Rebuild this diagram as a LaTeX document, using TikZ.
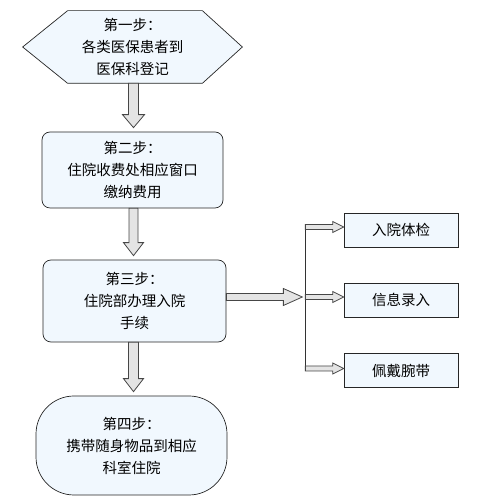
\documentclass[tikz,border=0pt]{standalone}
\usepackage{fontspec}
\newfontfamily\cjk{Noto Sans CJK SC}
\definecolor{stepfill}{RGB}{241, 248, 254}
\definecolor{arrowgray}{RGB}{228, 228, 228}
\definecolor{edgegray}{RGB}{70, 70, 70}
\usetikzlibrary{shapes, arrows.meta, positioning, calc, backgrounds}

\tikzset{
  stepbox/.style={draw=black!85, fill=stepfill, line width=0.7pt, align=center, font=\cjk\fontsize{14.5}{22}\selectfont, inner sep=0pt},
  taskbox/.style={draw=black!85, fill=stepfill, line width=0.7pt, minimum width=114pt, minimum height=34pt, font=\cjk\fontsize{14.5}{22}\selectfont},
  arrowbody/.style={draw=edgegray, fill=arrowgray, line width=0.8pt, line join=miter}
}

% fat arrow: from, to, half shaft, half head, head length
\newcommand{\fatarrow}[5]{%
  \coordinate (fa-s) at (#1);
  \coordinate (fa-e) at (#2);
  \coordinate (fa-h) at ($(fa-e)!#5!(fa-s)$);
  \draw[arrowbody] ($(fa-s)!#3!90:(fa-e)$) -- ($(fa-h)!#3!-90:(fa-s)$) -- ($(fa-h)!#4!-90:(fa-s)$)
    -- (fa-e) -- ($(fa-h)!#4!90:(fa-s)$) -- ($(fa-h)!#3!90:(fa-s)$) -- ($(fa-s)!#3!-90:(fa-e)$) -- cycle;
}

\begin{document}
\begin{tikzpicture}[x=1pt, y=1pt]
  \useasboundingbox (0,0) rectangle (497,502);

  % step 1, hexagon behind the node
  \node[stepbox, draw=none, fill=none, minimum width=219pt, minimum height=72pt] (s1) at (132.5,455) {第一步：\\各类医保患者到\\医保科登记};
  \begin{scope}[on background layer]
    \draw[fill=stepfill, draw=black!85, line width=0.7pt]
      (s1.west) -- ([xshift=45pt]s1.north west) -- ([xshift=-40pt]s1.north east) -- (s1.east)
      -- ([xshift=-40pt]s1.south east) -- ([xshift=45pt]s1.south west) -- cycle;
  \end{scope}

  % steps 2-4
  \node[stepbox, rounded corners=8pt, minimum width=181pt, minimum height=76pt] (s2) at (132.5,332) {第二步：\\住院收费处相应窗口\\缴纳费用};
  \node[stepbox, rounded corners=8pt, minimum width=183pt, minimum height=82pt] (s3) at (134.5,201) {第三步：\\住院部办理入院\\手续};
  \node[stepbox, rounded corners=38pt, minimum width=191pt, minimum height=99pt] (s4) at (131.5,56.5) {第四步：\\携带随身物品到相应\\科室住院};

  % tasks on the right
  \node[taskbox] (r1) at (401,272) {入院体检};
  \node[taskbox] (r2) at (401,202) {信息录入};
  \node[taskbox] (r3) at (401,131.5) {佩戴腕带};

  % down arrows
  \fatarrow{[xshift=1pt]s1.south}{$([xshift=1pt]s1.south |- s2.north)+(0,4pt)$}{5pt}{11pt}{13pt}
  \fatarrow{[xshift=1pt]s2.south}{$([xshift=1pt]s2.south |- s3.north)+(0,4pt)$}{4.5pt}{10pt}{13pt}
  \fatarrow{[xshift=-1pt]s3.south}{$([xshift=-1pt]s3.south |- s4.north)+(0,4pt)$}{5pt}{10pt}{13pt}

  % branch to tasks
  \coordinate (split) at ([xshift=79pt, yshift=4pt]s3.east);
  \fatarrow{[yshift=4pt]s3.east}{$(split)+(-3pt,0)$}{3.5pt}{8.5pt}{19pt}
  \draw[black!80, line width=0.9pt] ([yshift=3pt]split |- r1.west) -- ([yshift=2pt]split |- r3.west);
  \fatarrow{$([yshift=3pt]split |- r1.west)$}{[yshift=3pt]r1.west}{2.5pt}{5.5pt}{11pt}
  \fatarrow{$([yshift=3pt]split |- r2.west)$}{[yshift=3pt]r2.west}{2.5pt}{5.5pt}{11pt}
  \fatarrow{$([yshift=2pt]split |- r3.west)$}{[yshift=2pt]r3.west}{2.5pt}{5.5pt}{11pt}
\end{tikzpicture}
\end{document}
